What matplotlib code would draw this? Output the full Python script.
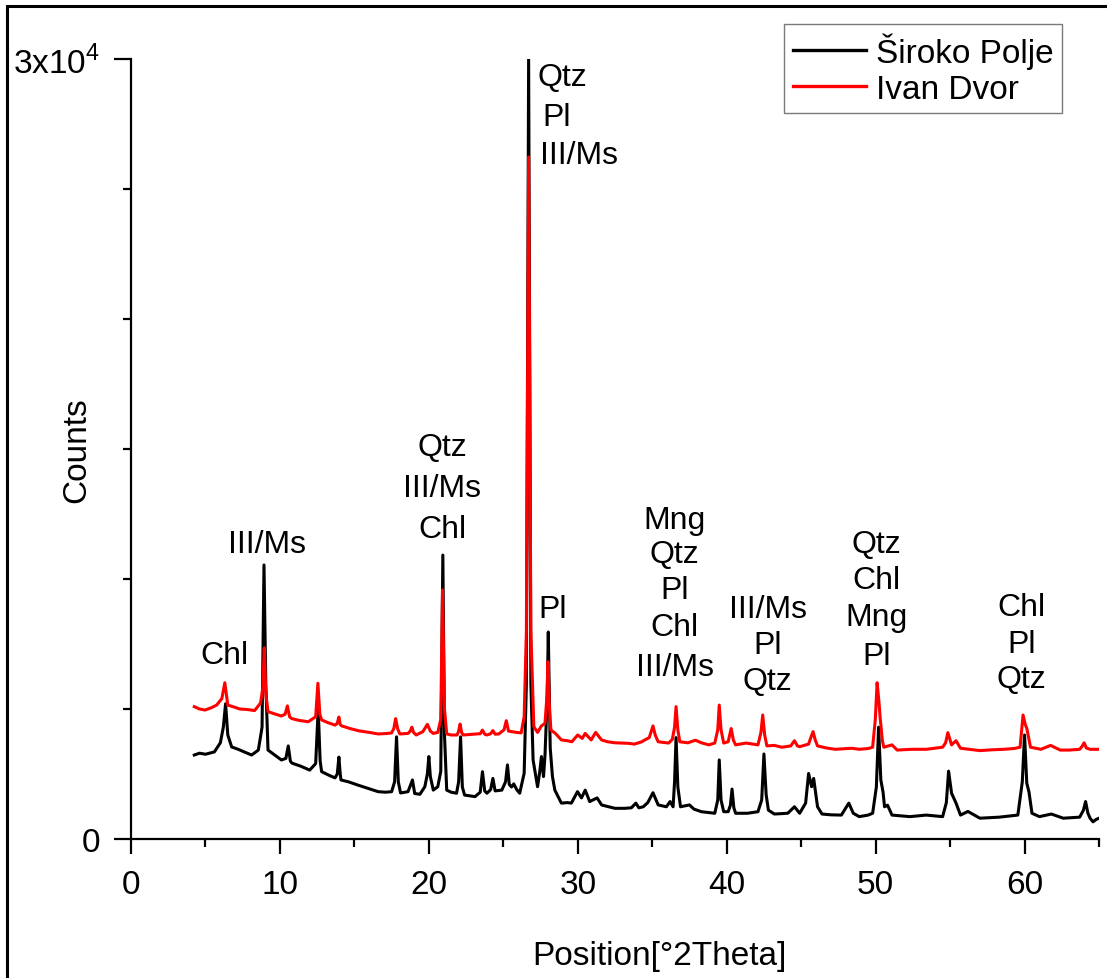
import numpy as np
import matplotlib
matplotlib.use("Agg")
import matplotlib.pyplot as plt
from matplotlib.patches import Rectangle
from matplotlib.ticker import MultipleLocator

plt.rcParams['font.family'] = ['Liberation Sans', 'DejaVu Sans']
plt.rcParams['mathtext.fontset'] = 'custom'
plt.rcParams['mathtext.rm'] = 'Liberation Sans'

# Široko Polje (black)
theta_sp = [4.25, 4.6, 5.0, 5.6, 6.0, 6.2, 6.35, 6.5, 6.76, 7.2, 7.6, 8.1, 8.55, 8.8, 8.93, 9.05,
            9.2, 9.6, 10.1, 10.4, 10.56, 10.7, 10.8, 11.4, 12.0, 12.4, 12.57, 12.7, 12.8, 13.3,
            13.7, 13.85, 13.96, 14.05, 14.1, 14.6, 15.2, 15.9, 16.6, 17.1, 17.5, 17.7, 17.83,
            17.95, 18.1, 18.6, 18.9, 19.05, 19.4, 19.73, 19.9, 20.0, 20.1, 20.3, 20.6, 20.8,
            20.94, 21.05, 21.2, 21.5, 21.86, 22.0, 22.13, 22.25, 22.4, 23.1, 23.45, 23.6, 23.75,
            23.9, 24.15, 24.3, 24.45, 24.9, 25.15, 25.28, 25.4, 25.55, 25.7, 25.9, 26.1, 26.4,
            26.55, 26.7, 26.85, 27.0, 27.3, 27.45, 27.56, 27.7, 27.8, 27.95, 28.02, 28.15, 28.3,
            28.46, 28.9, 29.3, 29.57, 29.98, 30.25, 30.5, 30.8, 31.3, 31.6, 32.0, 32.5, 33.15,
            33.6, 33.9, 34.1, 34.4, 34.7, 35.05, 35.4, 35.95, 36.2, 36.4, 36.5, 36.6, 36.72,
            36.9, 37.5, 37.8, 38.3, 39.2, 39.4, 39.5, 39.62, 39.8, 40.1, 40.25, 40.36, 40.48,
            40.6, 41.4, 42.1, 42.35, 42.5, 42.65, 42.8, 43.2, 44.1, 44.55, 44.9, 45.3, 45.5,
            45.7, 45.84, 46.1, 46.4, 47.0, 47.7, 48.2, 48.5, 48.9, 49.5, 49.8, 50.05, 50.2,
            50.35, 50.5, 50.6, 50.8, 51.1, 52.3, 53.4, 54.5, 54.75, 54.9, 55.1, 55.3, 55.4,
            55.7, 56.2, 57.0, 58.3, 59.55, 59.85, 60.0, 60.15, 60.3, 60.5, 61.0, 61.8, 62.6,
            63.7, 63.95, 64.1, 64.25, 64.4, 64.6, 64.8, 65.0]
counts_sp = [3230, 3300, 3260, 3350, 3700, 4300, 5200, 4000, 3540, 3450, 3350, 3230, 3420, 4300,
             10540, 6000, 3420, 3250, 3040, 3100, 3580, 3000, 2920, 2800, 2650, 2900, 5000, 3000,
             2590, 2450, 2350, 2500, 3150, 2500, 2270, 2200, 2080, 1950, 1820, 1800, 1820, 2200,
             3930, 2200, 1770, 1820, 2270, 1750, 1720, 2010, 2500, 3170, 2400, 1880, 2010, 2600,
             10920, 4000, 1880, 1800, 1760, 2200, 3930, 2000, 1690, 1630, 1800, 2590, 1850, 1760,
             1900, 2330, 1850, 1880, 2200, 2850, 2100, 2000, 2120, 1900, 1760, 2530, 6000, 30000,
             6000, 3040, 2010, 2600, 3170, 2400, 3230, 5500, 7960, 3500, 2400, 1880, 1380, 1400,
             1380, 1820, 1580, 1880, 1440, 1580, 1310, 1250, 1180, 1180, 1200, 1380, 1200, 1240,
             1400, 1780, 1310, 1240, 1440, 1240, 2200, 3900, 2000, 1240, 1310, 1150, 1050, 990,
             1500, 3040, 1500, 1050, 1050, 1300, 1920, 1200, 990, 990, 1050, 1500, 3270, 1700,
             1110, 960, 990, 1240, 990, 1380, 2520, 2010, 2330, 1240, 960, 930, 920, 1380, 990,
             860, 920, 990, 2000, 4300, 2270, 1800, 1240, 1300, 920, 860, 920, 860, 1400, 2610,
             1760, 1500, 1380, 920, 1060, 800, 840, 920, 2200, 4000, 2150, 1800, 990, 860, 960,
             800, 840, 1100, 1440, 1000, 800, 660, 750, 800]

# Ivan Dvor (red)
theta_id = [4.25, 4.6, 4.97, 5.4, 5.75, 6.1, 6.3, 6.5, 6.9, 7.3, 7.8, 8.3, 8.7, 8.85, 8.95, 9.05,
            9.2, 9.6, 10.1, 10.35, 10.5, 10.65, 10.8, 11.3, 11.9, 12.4, 12.55, 12.68, 12.8, 13.2,
            13.7, 13.85, 13.96, 14.05, 14.15, 14.7, 15.3, 16.0, 16.6, 17.2, 17.5, 17.65, 17.77,
            17.9, 18.05, 18.6, 18.75, 18.86, 18.97, 19.15, 19.6, 19.9, 20.1, 20.3, 20.6, 20.8,
            20.92, 21.05, 21.2, 21.5, 21.9, 22.0, 22.1, 22.2, 22.3, 23.0, 23.45, 23.6, 23.75,
            23.9, 24.15, 24.3, 24.45, 24.7, 25.05, 25.2, 25.35, 25.55, 25.9, 26.2, 26.4, 26.55,
            26.7, 26.85, 27.05, 27.3, 27.56, 27.8, 27.93, 28.0, 28.1, 28.2, 28.5, 28.9, 29.3,
            29.6, 30.0, 30.3, 30.5, 30.9, 31.2, 31.6, 32.0, 32.5, 33.4, 33.8, 34.3, 34.5, 34.8,
            35.05, 35.2, 35.4, 36.1, 36.35, 36.5, 36.6, 36.72, 36.85, 37.4, 37.9, 38.3, 38.8,
            39.2, 39.4, 39.5, 39.62, 39.8, 40.1, 40.3, 40.45, 40.6, 41.3, 42.1, 42.3, 42.42,
            42.55, 42.7, 43.2, 43.7, 44.3, 44.55, 44.75, 44.9, 45.5, 45.65, 45.8, 45.95, 46.1,
            46.7, 47.3, 48.4, 48.9, 49.5, 49.8, 49.98, 50.1, 50.22, 50.3, 50.45, 50.55, 50.85,
            51.1, 51.45, 52.4, 53.4, 54.5, 54.7, 54.85, 55.0, 55.1, 55.4, 55.7, 56.3, 57.0,
            57.8, 58.6, 59.3, 59.7, 59.82, 59.9, 60.05, 60.15, 60.4, 61.1, 61.75, 62.4, 63.0,
            63.7, 63.85, 64.0, 64.15, 64.4, 65.0]
counts_id = [5090, 5000, 4960, 5050, 5150, 5400, 6010, 5150, 5080, 5000, 4980, 4940, 5230, 5800,
             7350, 5600, 4900, 4820, 4730, 4800, 5120, 4700, 4630, 4560, 4510, 4700, 5990, 4800,
             4580, 4480, 4380, 4450, 4690, 4400, 4350, 4250, 4160, 4100, 4040, 4060, 4080, 4250,
             4630, 4250, 4040, 4060, 4150, 4300, 4100, 4000, 4130, 4410, 4150, 4060, 4100, 4600,
             9580, 5000, 4040, 4000, 4000, 4150, 4420, 4100, 4000, 4030, 4050, 4190, 4030, 4000,
             4050, 4170, 4030, 4040, 4200, 4550, 4150, 4130, 4100, 4080, 4700, 8000, 26230, 8000,
             4320, 4100, 4350, 4450, 5500, 6820, 5000, 4190, 4060, 3810, 3780, 3740, 4000, 3870,
             4060, 3810, 4100, 3810, 3740, 3700, 3680, 3650, 3740, 3810, 3900, 4350, 4000, 3740,
             3690, 3830, 4300, 5090, 4200, 3740, 3700, 3800, 3700, 3620, 3690, 4200, 5150, 4200,
             3690, 3740, 4250, 3800, 3620, 3690, 3620, 4100, 4770, 4000, 3580, 3600, 3530, 3580,
             3780, 3580, 3550, 3650, 3900, 4130, 3800, 3580, 3500, 3450, 3490, 3450, 3480, 3530,
             4600, 6010, 5300, 4700, 3800, 3530, 3580, 3620, 3420, 3450, 3450, 3530, 3700, 4090,
             3800, 3620, 3780, 3490, 3450, 3400, 3430, 3450, 3480, 3530, 4300, 4770, 4400, 4260,
             3530, 3450, 3600, 3420, 3420, 3450, 3550, 3700, 3500, 3450, 3450]

# phase labels: (2theta, counts at baseline, text, horizontal alignment)
labels = [
    (6.3, 6770, "Chl", "center"),
    (9.1, 11040, "III/Ms", "center"),
    (20.9, 14770, "Qtz", "center"), (20.9, 13190, "III/Ms", "center"), (20.9, 11620, "Chl", "center"),
    (27.3, 29000, "Qtz", "left"), (27.65, 27460, "Pl", "left"), (27.45, 26000, "III/Ms", "left"),
    (28.3, 8540, "Pl", "center"),
    (36.5, 11960, "Mng", "center"), (36.5, 10650, "Qtz", "center"), (36.5, 9270, "Pl", "center"),
    (36.5, 7850, "Chl", "center"), (36.5, 6310, "III/Ms", "center"),
    (42.75, 8540, "III/Ms", "center"), (42.75, 7150, "Pl", "center"), (42.75, 5770, "Qtz", "center"),
    (50.07, 11040, "Qtz", "center"), (50.07, 9650, "Chl", "center"),
    (50.07, 8230, "Mng", "center"), (50.07, 6730, "Pl", "center"),
    (59.8, 8620, "Chl", "center"), (59.8, 7190, "Pl", "center"), (59.8, 5850, "Qtz", "center"),
]

W, H = 1107, 979
FS = 24


def main():
    fig = plt.figure(figsize=(W / 100, H / 100), dpi=100)
    ax = fig.add_axes([131 / W, 1 - 840 / H, 968 / W, 780 / H])

    ax.plot(theta_sp, counts_sp, color='black', lw=2.2, label='Široko Polje')
    ax.plot(theta_id, counts_id, color='#ff0000', lw=2.2, label='Ivan Dvor')

    ax.set_xlim(0, 65)
    ax.set_ylim(0, 30000)
    ax.xaxis.set_major_locator(MultipleLocator(10))
    ax.xaxis.set_minor_locator(MultipleLocator(5))
    ax.set_yticks([0, 30000], ['0', '3x10$^{4}$'])
    ax.yaxis.set_minor_locator(MultipleLocator(5000))

    for s in ('top', 'right'):
        ax.spines[s].set_visible(False)
    for s in ('left', 'bottom'):
        ax.spines[s].set_linewidth(1.6)
    ax.tick_params(axis='x', which='major', length=10.5, width=1.6, pad=11, labelsize=FS)
    ax.tick_params(axis='y', which='major', length=12, width=1.6, pad=10, labelsize=FS)
    ax.tick_params(which='minor', length=5.5, width=1.6)

    ax.set_xlabel('Position[°2Theta]', fontsize=FS)
    ax.set_ylabel('Counts', fontsize=FS)
    ax.xaxis.set_label_coords(0.546, -0.130)
    ax.yaxis.set_label_coords(-0.040, 0.5)

    for x, y, t, ha in labels:
        ax.text(x, y, t, ha=ha, va='baseline', fontsize=23)

    leg = ax.legend(loc='upper right', bbox_to_anchor=(1062 / W, 1 - 25 / H),
                    bbox_transform=fig.transFigure, fontsize=FS, frameon=True,
                    fancybox=False, handlelength=2.2, handletextpad=0.3,
                    labelspacing=0.15, borderpad=0.25, borderaxespad=0)
    leg.get_frame().set_edgecolor('0.35')
    leg.get_frame().set_linewidth(1.0)
    for line in leg.get_lines():
        line.set_linewidth(2.4)

    fig.patches.append(Rectangle((7 / W, -0.1), 1.2, 1.1 - 7 / H, transform=fig.transFigure,
                                 fill=False, ec='black', lw=2.2))

    fig.savefig('out.png', dpi=100)


if __name__ == "__main__":
    main()
